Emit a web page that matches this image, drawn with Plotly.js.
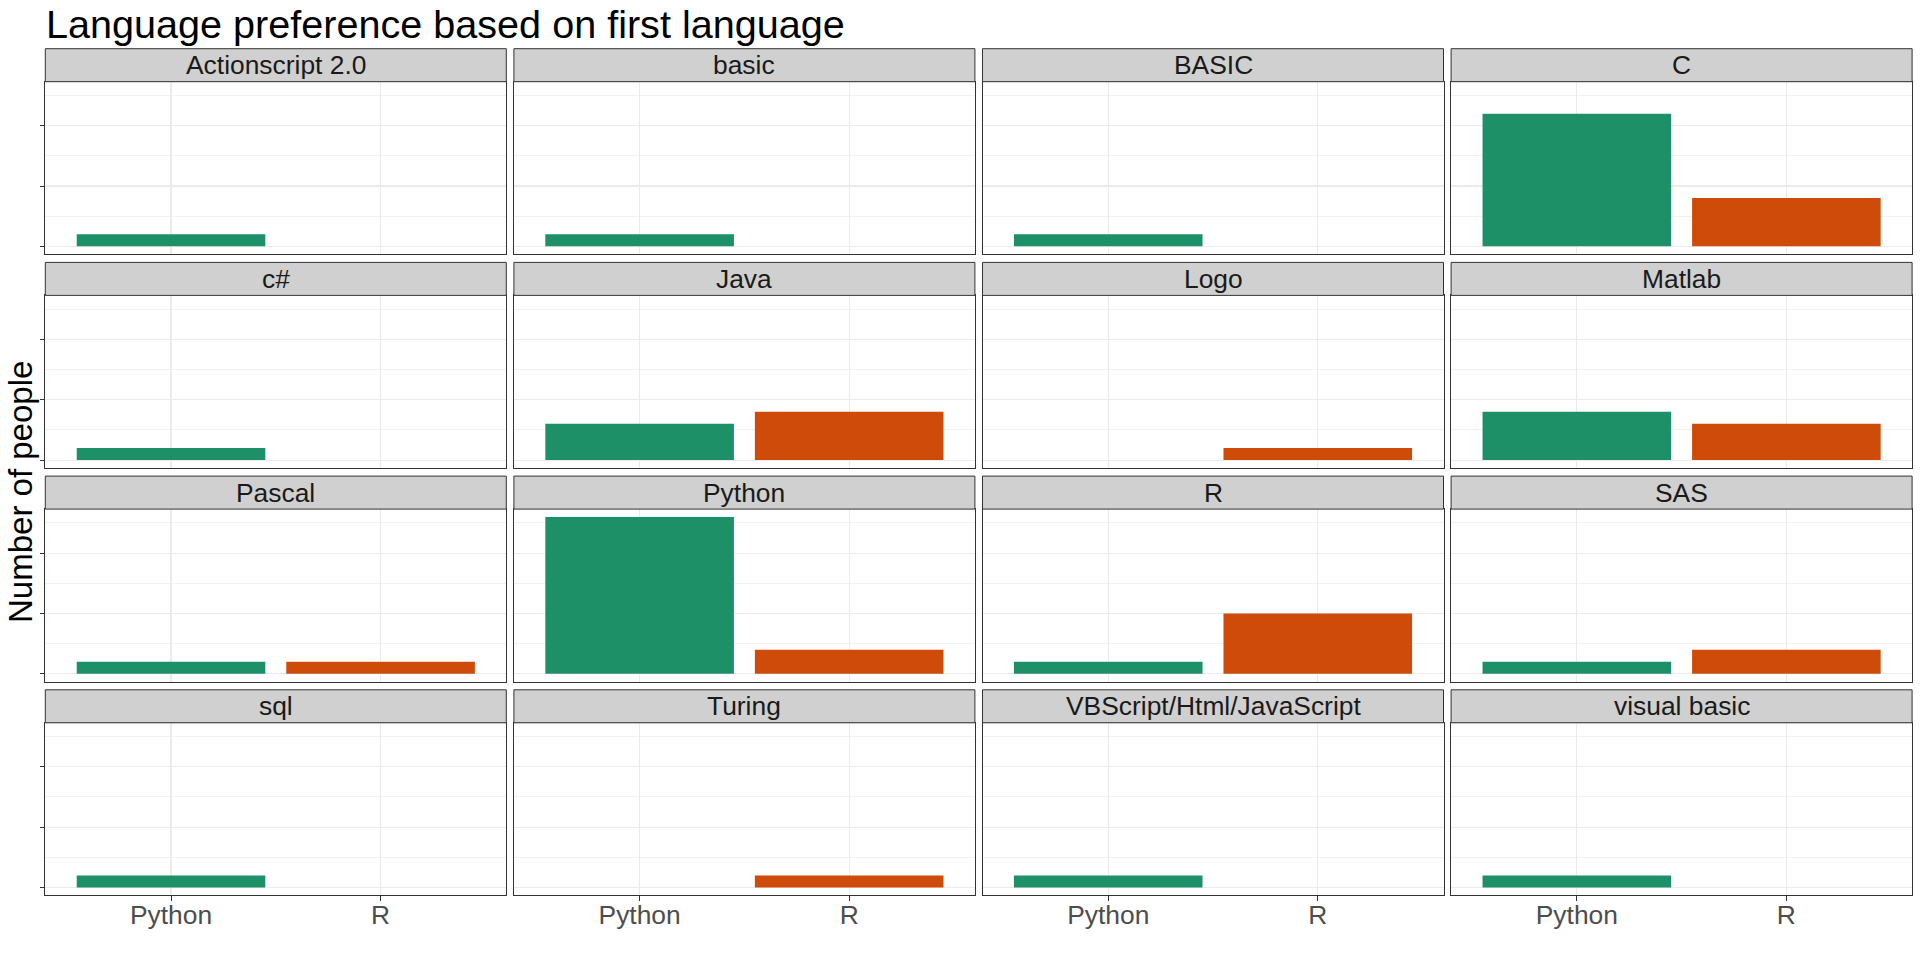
<!DOCTYPE html>
<html>
<head>
<meta charset="utf-8">
<script src="https://cdn.plot.ly/plotly-3.0.1.min.js"></script>
<style>
html,body{margin:0;padding:0;background:#fff;}
#chart{width:1920px;height:960px;}
</style>
</head>
<body>
<div id="chart"></div>
<script>
// ---- data ----
const firstLanguages = ["Actionscript 2.0","basic","BASIC","C","c#","Java","Logo","Matlab","Pascal","Python","R","SAS","sql","Turing","VBScript/Html/JavaScript","visual basic"];
const preferredLanguages = ["Python","R"];
const pythonCounts = [1,1,1,11,1,3,0,4,1,13,1,1,1,0,1,1];
const rCounts      = [0,0,0,4,0,4,1,3,1,2,5,2,0,1,0,0];
const barColors = ["#1E9068","#CE4B0A"];
const chartTitle = "Language preference based on first language";
const yTitle = "Number of people";

// ---- layout geometry (pixels) ----
const W = 1920, H = 960;
const nCols = 4;
const colLeft0 = 45.3, panelW = 461, colStep = 468.6;
const rowTop0 = 48.7, stripH = 33, panelH = 172.5, rowStep = 213.7;
const FONT = "Liberation Sans, Arial, Helvetica, sans-serif";
const px = x => x / W;
const py = y => 1 - y / H;

const ymax = Math.max(...pythonCounts, ...rCounts);
const yRange = [-0.05 * ymax, 1.05 * ymax];

const traces = [];
const layout = {
  width: W, height: H,
  margin: {l: 0, r: 0, t: 0, b: 0},
  paper_bgcolor: "#fff", plot_bgcolor: "#fff",
  showlegend: false,
  bargap: 0.1,
  font: {family: FONT},
  shapes: [],
  annotations: []
};

const nRows = Math.ceil(firstLanguages.length / nCols);
firstLanguages.forEach((lang, k) => {
  const c = k % nCols, r = Math.floor(k / nCols);
  const xl = colLeft0 + c * colStep, xr = xl + panelW;
  const st = rowTop0 + r * rowStep, pt = st + stripH, pb = pt + panelH;
  const id = k === 0 ? "" : String(k + 1);
  traces.push({
    type: "bar",
    x: preferredLanguages,
    y: [pythonCounts[k], rCounts[k]],
    marker: {color: barColors, line: {width: 0}},
    xaxis: "x" + id, yaxis: "y" + id,
    hoverinfo: "x+y"
  });
  const bottomRow = r === nRows - 1;
  layout["xaxis" + id] = {
    domain: [px(xl), px(xr)], anchor: "y" + id,
    type: "category", categoryorder: "array", categoryarray: preferredLanguages,
    range: [-0.6, 1.6],
    showgrid: true, gridcolor: "#EBEBEB", gridwidth: 1.1,
    showline: true, mirror: true, linecolor: "#333333", linewidth: 1,
    zeroline: false,
    ticks: bottomRow ? "outside" : "", ticklen: 4.6, tickwidth: 1, tickcolor: "#333333",
    showticklabels: bottomRow,
    ticklabelstandoff: -9,
    tickfont: {family: FONT, size: 26.4, color: "#4D4D4D"},
    fixedrange: true
  };
  layout["yaxis" + id] = {
    domain: [py(pb), py(pt)], anchor: "x" + id,
    range: yRange,
    tickmode: "linear", tick0: 0, dtick: 5,
    showticklabels: false,
    ticks: c === 0 ? "outside" : "", ticklen: 4.6, tickwidth: 1, tickcolor: "#333333",
    showgrid: true, gridcolor: "#EBEBEB", gridwidth: 1.1,
    minor: {dtick: 2.5, showgrid: true, gridcolor: "#F1F1F1", gridwidth: 1, ticks: ""},
    showline: true, mirror: true, linecolor: "#333333", linewidth: 1,
    zeroline: false,
    fixedrange: true
  };
  layout.shapes.push({
    type: "rect", xref: "paper", yref: "paper",
    x0: px(xl), x1: px(xr), y0: py(pt), y1: py(st),
    fillcolor: "#D0D0D0", line: {color: "#333333", width: 1}, layer: "above"
  });
  layout.annotations.push({
    xref: "paper", yref: "paper",
    x: px((xl + xr) / 2), y: py((st + pt) / 2),
    xanchor: "center", yanchor: "middle",
    text: lang, showarrow: false,
    font: {family: FONT, size: 26.4, color: "#1A1A1A"}
  });
});

layout.annotations.push({
  xref: "paper", yref: "paper",
  x: px(44), y: py(24.5), xanchor: "left", yanchor: "middle",
  text: chartTitle, showarrow: false,
  font: {family: FONT, size: 39.6, color: "#000000"}
});
layout.annotations.push({
  xref: "paper", yref: "paper",
  x: px(21), y: py(492), xanchor: "center", yanchor: "middle",
  text: yTitle, showarrow: false, textangle: -90,
  font: {family: FONT, size: 33, color: "#000000"}
});

Plotly.newPlot("chart", traces, layout, {staticPlot: true, displayModeBar: false});
</script>
</body>
</html>
